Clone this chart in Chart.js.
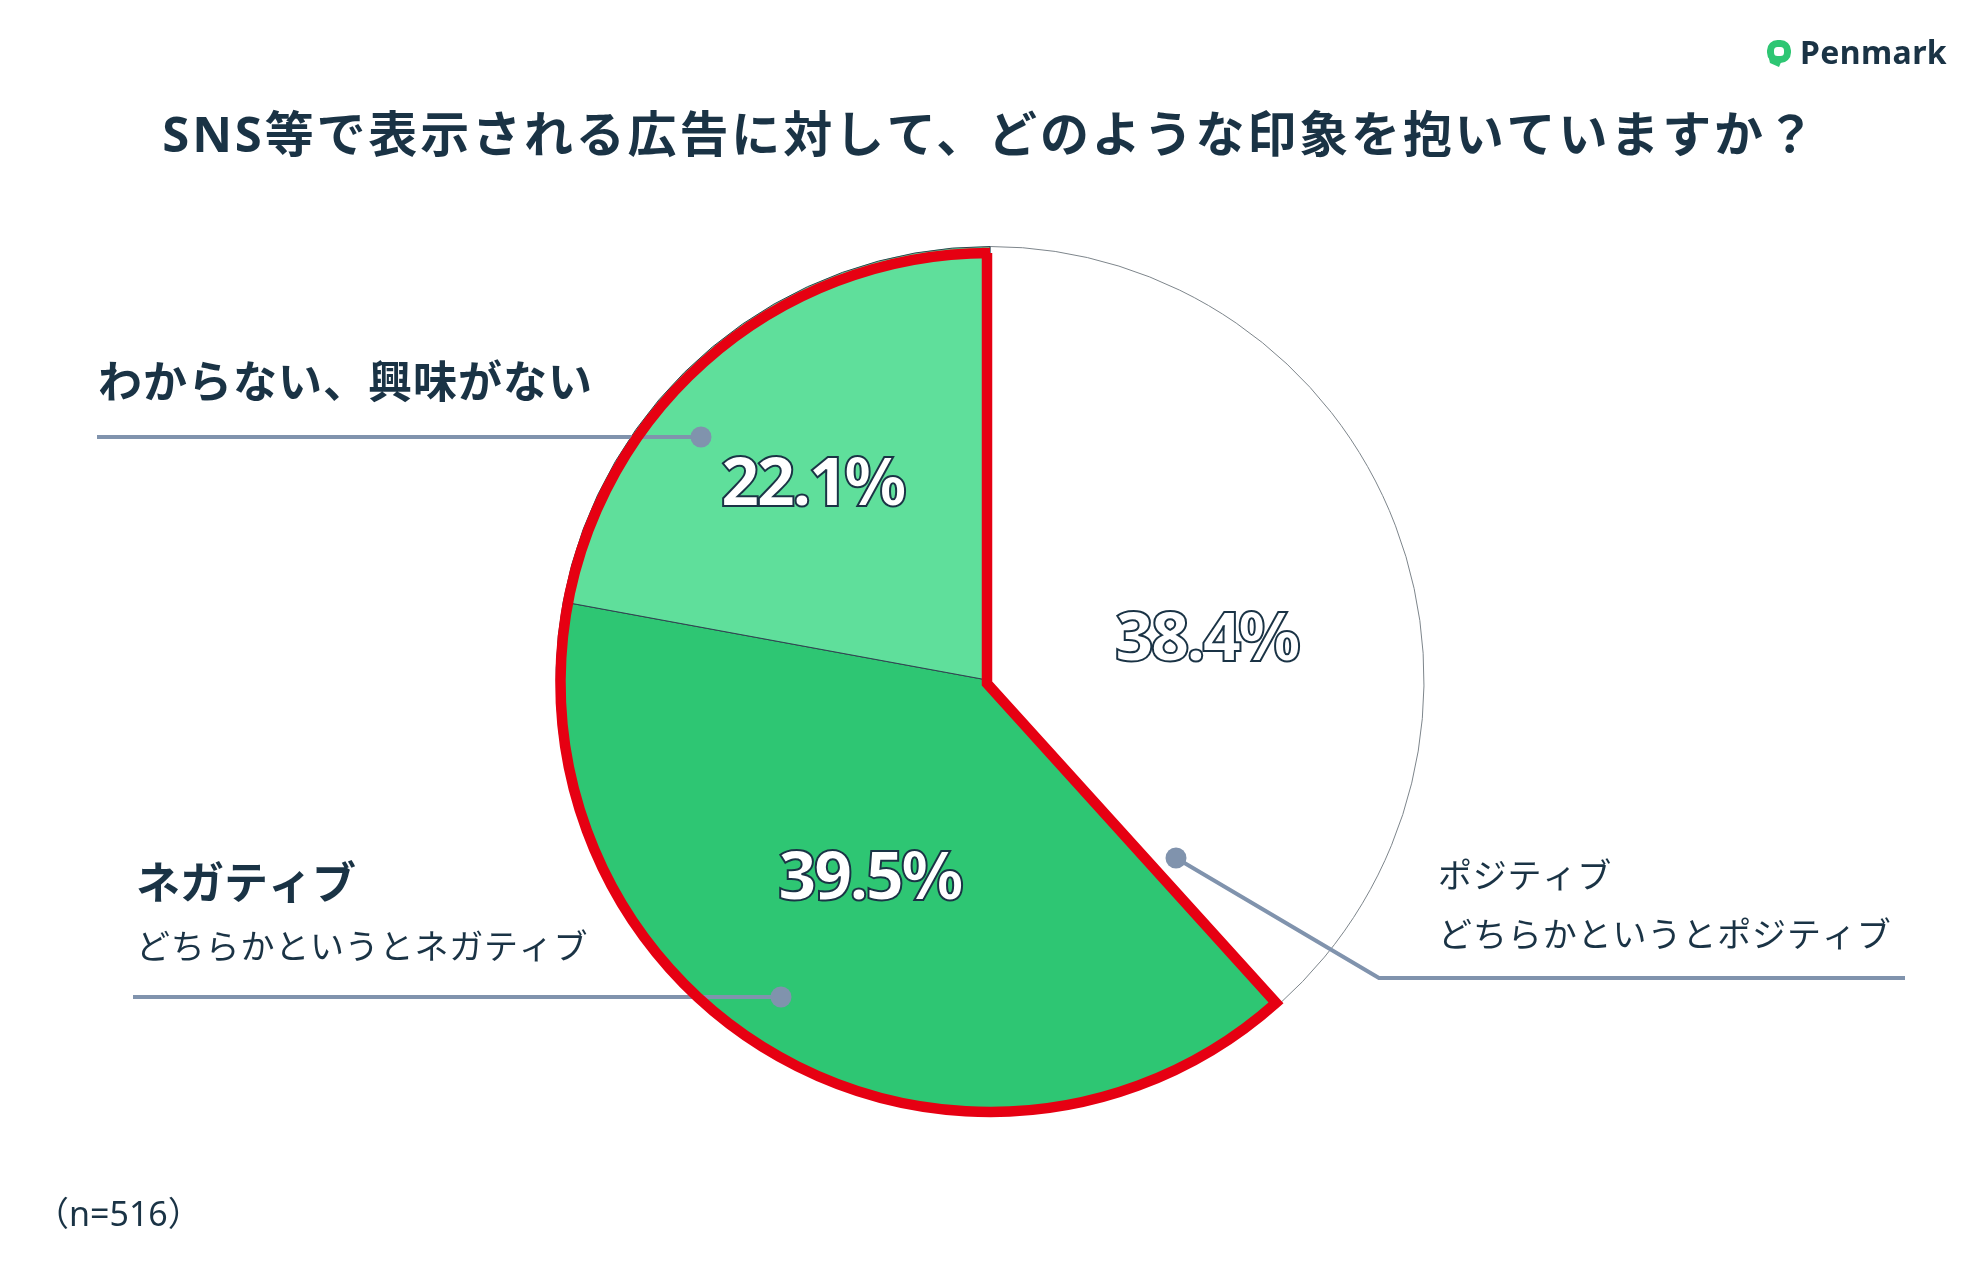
<!DOCTYPE html>
<html lang="ja">
<head>
<meta charset="utf-8">
<title>SNS広告の印象</title>
<script src="https://cdn.jsdelivr.net/npm/chart.js@4/dist/chart.umd.min.js"></script>
<style>
  html, body { margin: 0; padding: 0; background: #fff; }
  canvas { display: block; }
</style>
</head>
<body>
<canvas id="chart" width="1980" height="1280"></canvas>
<script>
const categories = ["ポジティブ / どちらかというとポジティブ", "ネガティブ / どちらかというとネガティブ", "わからない、興味がない"];
const values = [38.4, 39.5, 22.1];
const sliceColors = ["#ffffff", "#2ec673", "#5fdf9b"];
const titleText = "SNS等で表示される広告に対して、どのような印象を抱いていますか？";
const sampleNote = "（n=516）";

const DARK = "#1a3345";
const LEADER = "#8093ad";
const RED = "#e60012";
const FONT = '"Noto Sans", "Noto Sans CJK JP", sans-serif';

function drawText(ctx, text, x, y, font, spacing, align) {
  ctx.font = font;
  ctx.letterSpacing = (spacing || 0) + "px";
  ctx.textAlign = align || "left";
  ctx.textBaseline = "middle";
  ctx.fillStyle = DARK;
  ctx.fillText(text, x, y);
  ctx.letterSpacing = "0px";
}

function drawLeader(ctx, points) {
  ctx.beginPath();
  points.forEach((p, i) => (i ? ctx.lineTo(p[0], p[1]) : ctx.moveTo(p[0], p[1])));
  ctx.strokeStyle = LEADER;
  ctx.lineWidth = 4;
  ctx.lineJoin = "round";
  ctx.stroke();
}

function drawDot(ctx, p) {
  ctx.beginPath();
  ctx.arc(p[0], p[1], 10.5, 0, Math.PI * 2);
  ctx.fillStyle = LEADER;
  ctx.fill();
}

function drawPercent(ctx, value, x, y) {
  const text = value.toFixed(1) + "%";
  ctx.font = "800 68px " + FONT;
  ctx.letterSpacing = "-3.5px";
  ctx.textAlign = "center";
  ctx.textBaseline = "middle";
  ctx.lineJoin = "miter";
  ctx.miterLimit = 3;
  ctx.fillStyle = "#ffffff";
  ctx.fillText(text, x, y);
  ctx.strokeStyle = DARK;
  ctx.lineWidth = 2;
  ctx.strokeText(text, x, y);
  ctx.letterSpacing = "0px";
}

function drawLogo(ctx) {
  // speech bubble mark next to the wordmark
  ctx.beginPath();
  ctx.roundRect(1770.5, 43.5, 17, 16, 7);
  ctx.strokeStyle = "#2ec673";
  ctx.lineWidth = 7;
  ctx.stroke();
  ctx.beginPath();
  ctx.moveTo(1768, 54);
  ctx.lineTo(1770, 63);
  ctx.lineTo(1779, 67);
  ctx.lineTo(1782, 60);
  ctx.closePath();
  ctx.fillStyle = "#2ec673";
  ctx.fill();
  drawText(ctx, "Penmark", 1800, 55, "700 32px " + FONT, 0.4);
}

const overlayPlugin = {
  id: "overlay",
  afterDatasetsDraw(chart) {
    const ctx = chart.ctx;
    const arcs = chart.getDatasetMeta(0).data;
    const cx = arcs[0].x;
    const cy = arcs[0].y;
    const r = arcs[0].outerRadius;
    ctx.save();

    // leaders run underneath the red outline
    const leaders = [
      [[1176, 858], [1379, 978], [1905, 978]],
      [[781, 997], [133, 997]],
      [[701, 437], [97, 437]],
    ];
    leaders.forEach((l) => drawLeader(ctx, l));

    // red outline around the two green slices, sits slightly low on the pie
    ctx.beginPath();
    ctx.arc(cx, cy + 2, r - 4.5, arcs[1].startAngle, arcs[2].endAngle);
    ctx.lineTo(cx - 3, cy - r + 6.5);
    ctx.lineTo(cx - 3, cy + 3);
    ctx.closePath();
    ctx.strokeStyle = RED;
    ctx.lineWidth = 10.5;
    ctx.lineJoin = "miter";
    ctx.stroke();

    leaders.forEach((l) => drawDot(ctx, l[0]));

    drawPercent(ctx, values[0], 1206, 642);
    drawPercent(ctx, values[1], 869, 881);
    drawPercent(ctx, values[2], 812, 487);

    drawText(ctx, titleText, 990, 138, "700 49px " + FONT, 2.85, "center");

    drawText(ctx, "わからない、興味がない", 98, 385, "700 44px " + FONT, 1);
    drawText(ctx, "ネガティブ", 136, 886, "700 44px " + FONT, 0);
    drawText(ctx, "どちらかというとネガティブ", 136, 949, "400 34px " + FONT, 0.8);
    drawText(ctx, "ポジティブ", 1438, 878, "400 34px " + FONT, 0.8);
    drawText(ctx, "どちらかというとポジティブ", 1438, 937, "400 34px " + FONT, 0.9);
    drawText(ctx, sampleNote, 35, 1216, "400 34px " + FONT, 0);

    drawLogo(ctx);
    ctx.restore();
  },
};

new Chart(document.getElementById("chart"), {
  type: "pie",
  data: {
    labels: categories,
    datasets: [
      {
        data: values,
        backgroundColor: sliceColors,
        borderColor: ["#7d858b", "#2f4450", "#2f4450"],
        borderWidth: 1,
      },
    ],
  },
  options: {
    responsive: false,
    animation: false,
    devicePixelRatio: 1,
    layout: { padding: { top: 246, bottom: 165, left: 0, right: 0 } },
    plugins: { legend: { display: false }, tooltip: { enabled: false } },
  },
  plugins: [overlayPlugin],
});
</script>
</body>
</html>
